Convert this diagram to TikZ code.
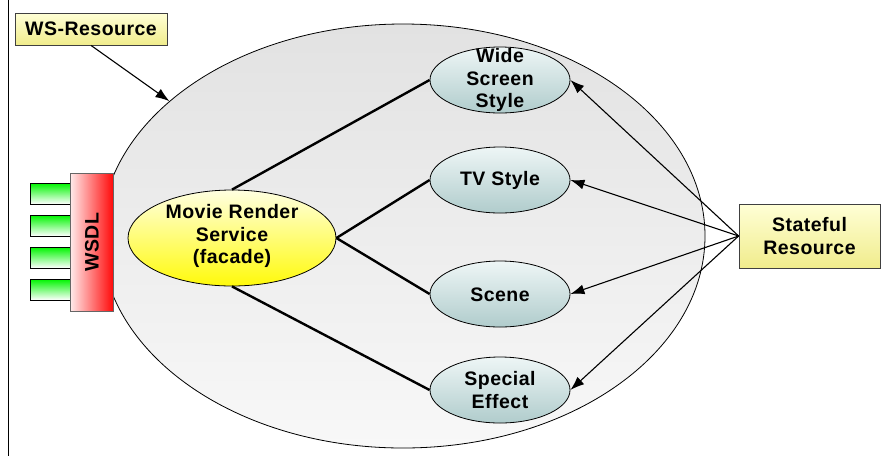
\documentclass[tikz,border=0pt]{standalone}
\usepackage{fontspec}
\setmainfont[LetterSpace=2.5]{Liberation Sans}
\usetikzlibrary{shapes.geometric,arrows.meta}

\definecolor{ylTop}{RGB}{255,255,214}
\definecolor{ylBot}{RGB}{240,236,140}
\definecolor{mvTop}{RGB}{255,255,225}
\definecolor{mvBot}{RGB}{255,250,10}
\definecolor{ptTop}{RGB}{238,246,246}
\definecolor{ptBot}{RGB}{176,204,204}
\definecolor{bgTop}{RGB}{226,226,226}
\definecolor{bgBot}{RGB}{248,248,248}
\definecolor{wsLeft}{RGB}{255,236,236}
\definecolor{wsRight}{RGB}{255,10,10}
\definecolor{tabTop}{RGB}{0,245,0}

\tikzset{
  lbl/.style={font=\fontsize{19.5}{22.5}\selectfont\bfseries, align=center, text=black, inner sep=0pt},
  yelbox/.style={rectangle, draw=black!75, line width=0.8pt, top color=ylTop, bottom color=ylBot, inner sep=0pt},
  part/.style={ellipse, draw=black, line width=0.8pt, top color=ptTop, bottom color=ptBot,
               minimum width=140pt, minimum height=66pt, inner sep=0pt},
  tabbox/.style={rectangle, draw=black, line width=0.8pt, top color=tabTop, bottom color=white,
                 minimum width=40pt, minimum height=21pt, inner sep=0pt},
  link/.style={line width=2.4pt},
  feed/.style={line width=1.1pt, -{Latex[length=14pt,width=10pt]}}
}

\begin{document}
\begin{tikzpicture}[x=1pt,y=-1pt]
\useasboundingbox (0,0) rectangle (882,456);

% left rule
\draw[line width=1pt] (8,0) -- (8,456);

% resource boundary
\node[ellipse, draw=black, line width=0.8pt, top color=bgTop, bottom color=bgBot,
      minimum width=604pt, minimum height=424pt, inner sep=0pt] (big) at (403,236) {};

% facade service
\node[ellipse, draw=black, line width=0.8pt, top color=mvTop, bottom color=mvBot,
      minimum width=208pt, minimum height=96pt, inner sep=0pt] (movie) at (232,238) {};
\node[lbl] (movieT) at (232,236) {Movie Render\\Service\\(facade)};

% inner parts
\node[part] (wide)    at (500,80)  {};
\node[part] (tv)      at (500,180) {};
\node[part] (scene)   at (500,294) {};
\node[part] (special) at (500,390) {};
\node[lbl] (wideT)    at (500,80)  {Wide\\Screen\\Style};
\node[lbl] (tvT)      at (500,180) {TV Style};
\node[lbl] (sceneT)   at (500,295) {Scene};
\node[lbl] (specialT) at (500,390) {Special\\Effect};

% links from the facade
\draw[link] (movie.north) -- (wide.west);
\draw[link] (movie.east)  -- (tv.west);
\draw[link] (movie.east)  -- (scene.west);
\draw[link] (movie.south) -- (special.west);

% WSDL ports
\node[tabbox] (tab1) at (50,193.5) {};
\node[tabbox] (tab2) at (50,225.5) {};
\node[tabbox] (tab3) at (50,257.5) {};
\node[tabbox] (tab4) at (50,289.5) {};
\node[rectangle, draw=black!60, line width=1pt, left color=wsLeft, right color=wsRight,
      minimum width=43pt, minimum height=138pt, inner sep=0pt] (wsdl) at (91.5,242) {};
\node[lbl, rotate=90] (wsdlT) at (92,242) {WSDL};

% labels outside
\node[yelbox, minimum width=152pt, minimum height=32pt] (wsres) at (91,29) {};
\node[lbl] (wsresT) at (91,29) {WS-Resource};
\node[yelbox, minimum width=141pt, minimum height=64pt] (state) at (809.5,236) {};
\node[lbl] (stateT) at (809.5,236) {Stateful\\Resource};

% arrows
\draw[feed] (wsres.south) -- (big.150);
\draw[feed] (state.west) -- (wide.east);
\draw[feed] (state.west) -- (tv.east);
\draw[feed] (state.west) -- (scene.east);
\draw[feed] (state.west) -- (special.east);
\end{tikzpicture}
\end{document}
